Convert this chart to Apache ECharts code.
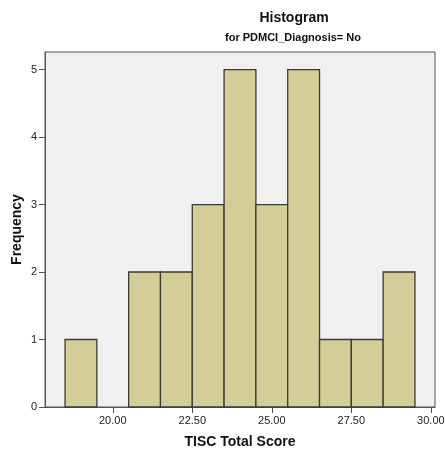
<!DOCTYPE html>
<html>
<head>
<meta charset="utf-8">
<script src="https://cdn.jsdelivr.net/npm/echarts@6/dist/echarts.min.js"></script>
<style>
  html, body { margin: 0; padding: 0; background: #ffffff; }
  #chart { width: 445px; height: 456px; }
</style>
</head>
<body>
<div id="chart"></div>
<script>
// Histogram bins: lower edge, upper edge, frequency
const binStarts = [18.5, 19.5, 20.5, 21.5, 22.5, 23.5, 24.5, 25.5, 26.5, 27.5, 28.5];
const binEnds   = [19.5, 20.5, 21.5, 22.5, 23.5, 24.5, 25.5, 26.5, 27.5, 28.5, 29.5];
const frequencies = [1, 0, 2, 2, 3, 5, 3, 5, 1, 1, 2];
const xTicks = [20, 22.5, 25, 27.5, 30];
const yTicks = [0, 1, 2, 3, 4, 5];

const binData = binStarts.map((s, i) => [s, binEnds[i], frequencies[i]]);

const chart = echarts.init(document.getElementById('chart'), null, { renderer: 'canvas' });
const font = 'Liberation Sans, Arial, sans-serif';

chart.setOption({
  animation: false,
  title: [
    {
      text: 'Histogram',
      left: 289, top: 6, textAlign: 'center',
      textStyle: { fontFamily: font, fontSize: 14, fontWeight: 'bold', color: '#111' }
    },
    {
      text: 'for PDMCI_Diagnosis= No',
      left: 288, top: 27, textAlign: 'center',
      textStyle: { fontFamily: font, fontSize: 11, fontWeight: 'bold', color: '#111' }
    }
  ],
  grid: {
    left: 45, right: 10, top: 52, bottom: 49,
    outerBoundsMode: 'none',
    containLabel: false,
    show: true, backgroundColor: '#f0f0f0', borderColor: '#555', borderWidth: 1
  },
  xAxis: {
    type: 'value',
    min: 17.87, max: 30.13,
    name: 'TISC Total Score',
    nameLocation: 'middle', nameGap: 28,
    nameMoveOverlap: false,
    nameTextStyle: { fontFamily: font, fontSize: 14, fontWeight: 'bold', color: '#111' },
    splitLine: { show: false },
    axisLine: { show: true, lineStyle: { color: '#555' } },
    axisTick: { show: true, inside: false, length: 6, customValues: xTicks, lineStyle: { color: '#555' } },
    axisLabel: {
      customValues: xTicks, margin: 8,
      fontFamily: font, fontSize: 11, color: '#222',
      formatter: v => v.toFixed(2)
    }
  },
  yAxis: {
    type: 'value',
    min: 0, max: 5.26,
    name: 'Frequency',
    nameLocation: 'middle', nameGap: 21,
    nameMoveOverlap: false,
    nameTextStyle: { fontFamily: font, fontSize: 14, fontWeight: 'bold', color: '#111' },
    splitLine: { show: false },
    axisLine: { show: true, lineStyle: { color: '#555' } },
    axisTick: { show: true, inside: false, length: 6, customValues: yTicks, lineStyle: { color: '#555' } },
    axisLabel: {
      customValues: yTicks, margin: 8,
      fontFamily: font, fontSize: 11, color: '#222'
    }
  },
  series: [{
    type: 'custom',
    data: binData,
    encode: { x: [0, 1], y: 2 },
    renderItem: function (params, api) {
      const v = api.value(2);
      if (!v) return null;
      const p0 = api.coord([api.value(0), v]);
      const p1 = api.coord([api.value(1), 0]);
      return {
        type: 'rect',
        shape: { x: p0[0], y: p0[1], width: p1[0] - p0[0], height: p1[1] - p0[1] },
        style: { fill: '#d3ce98', stroke: '#3a3a3a', lineWidth: 1.3 }
      };
    }
  }]
});
</script>
</body>
</html>
